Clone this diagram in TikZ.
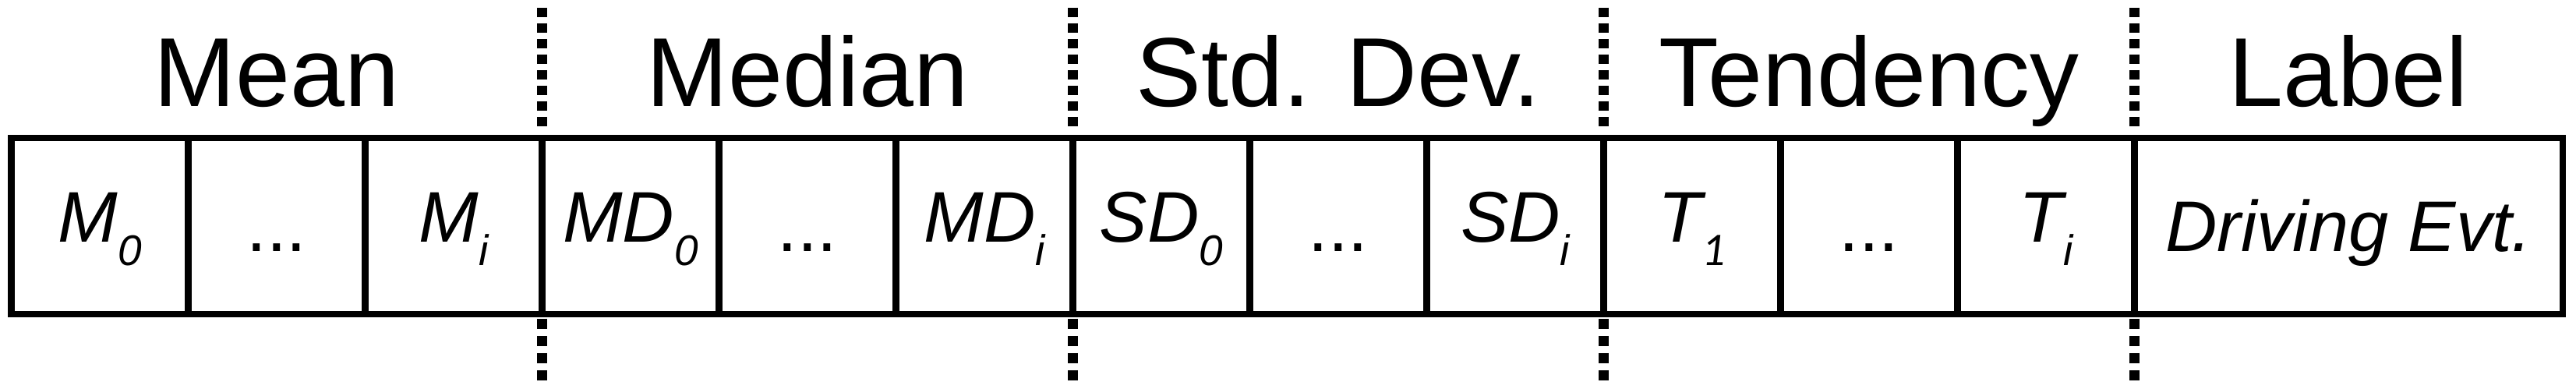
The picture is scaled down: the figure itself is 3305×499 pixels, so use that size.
\documentclass[tikz,border=0pt]{standalone}
\usepackage{fontspec}
\setmainfont{Liberation Sans}
\newfontfamily\carlitofont{Carlito}
\newcommand\lowsub[1]{\raisebox{-7.5pt}{\fontsize{13.75pt}{16pt}\selectfont\itshape #1}}
\newcommand\lowsubone{\raisebox{-7.5pt}{\fontsize{15pt}{18pt}\selectfont\carlitofont\itshape 1}}
\begin{document}
\begin{tikzpicture}[x=0.25pt,y=-0.25pt,
  cell/.style={draw, line width=2.125pt, minimum width=56.75pt, minimum height=56.5pt, inner sep=0pt, outer sep=0pt},
  widecell/.style={cell, minimum width=137.375pt},
  celltxt/.style={anchor=base, inner sep=0pt, font=\fontsize{23pt}{27pt}\selectfont\itshape},
  dotstxt/.style={anchor=base, inner sep=0pt, font=\fontsize{23pt}{27pt}\selectfont},
  head/.style={anchor=base, inner sep=0pt, font=\fontsize{31.43pt}{36pt}\selectfont},
  septop/.style={line width=3.25pt, dash pattern=on 3pt off 2pt},
  sepbot/.style={line width=3.25pt, dash pattern=on 3.25pt off 2.25pt}]
\useasboundingbox (0,0) rectangle (3305,499);
% headers
\node[head] (hmean) at (355,137) {Mean};
\node[head] (hmedian) at (1036,137) {Median};
\node[head] (hstd) at (1717,137) {Std. Dev.};
\node[head] (htend) at (2398,137) {Tendency};
\node[head] (hlabel) at (3013,137) {Label};
% cells
\foreach \i in {0,...,11} \node[cell] (c\i) at (128+227*\i,290) {};
\node[widecell] (c12) at (3013.25,290) {};
% cell texts
\path (c0.center) ++(0,21) node[celltxt] (t0) {M\lowsub{0}};
\path (c1.center) ++(0,33) node[dotstxt] (t1) {...};
\path (c2.center) ++(0,21) node[celltxt] (t2) {M\lowsub{i}};
\path (c3.center) ++(0,21) node[celltxt] (t3) {MD\lowsub{0}};
\path (c4.center) ++(0,33) node[dotstxt] (t4) {...};
\path (c5.center) ++(0,21) node[celltxt] (t5) {MD\lowsub{i}};
\path (c6.center) ++(0,21) node[celltxt] (t6) {SD\lowsub{0}};
\path (c7.center) ++(0,33) node[dotstxt] (t7) {...};
\path (c8.center) ++(0,21) node[celltxt] (t8) {SD\lowsub{i}};
\path (c9.center) ++(0,21) node[celltxt] (t9) {T\lowsubone};
\path (c10.center) ++(0,33) node[dotstxt] (t10) {...};
\path (c11.center) ++(0,21) node[celltxt] (t11) {T\lowsub{i}};
\path (c12.center) ++(0,33) node[celltxt] (t12) {Driving Evt.};
% separators
\foreach \k/\x in {1/695.5,2/1376.5,3/2057.5,4/2738.5} {
  \coordinate (s\k a) at (\x,10);
  \coordinate (s\k b) at (\x,162);
  \coordinate (s\k c) at (\x,409);
  \coordinate (s\k d) at (\x,488);
  \draw[septop] (s\k a) -- (s\k b);
  \draw[sepbot] (s\k c) -- (s\k d);
}
\end{tikzpicture}
\end{document}
